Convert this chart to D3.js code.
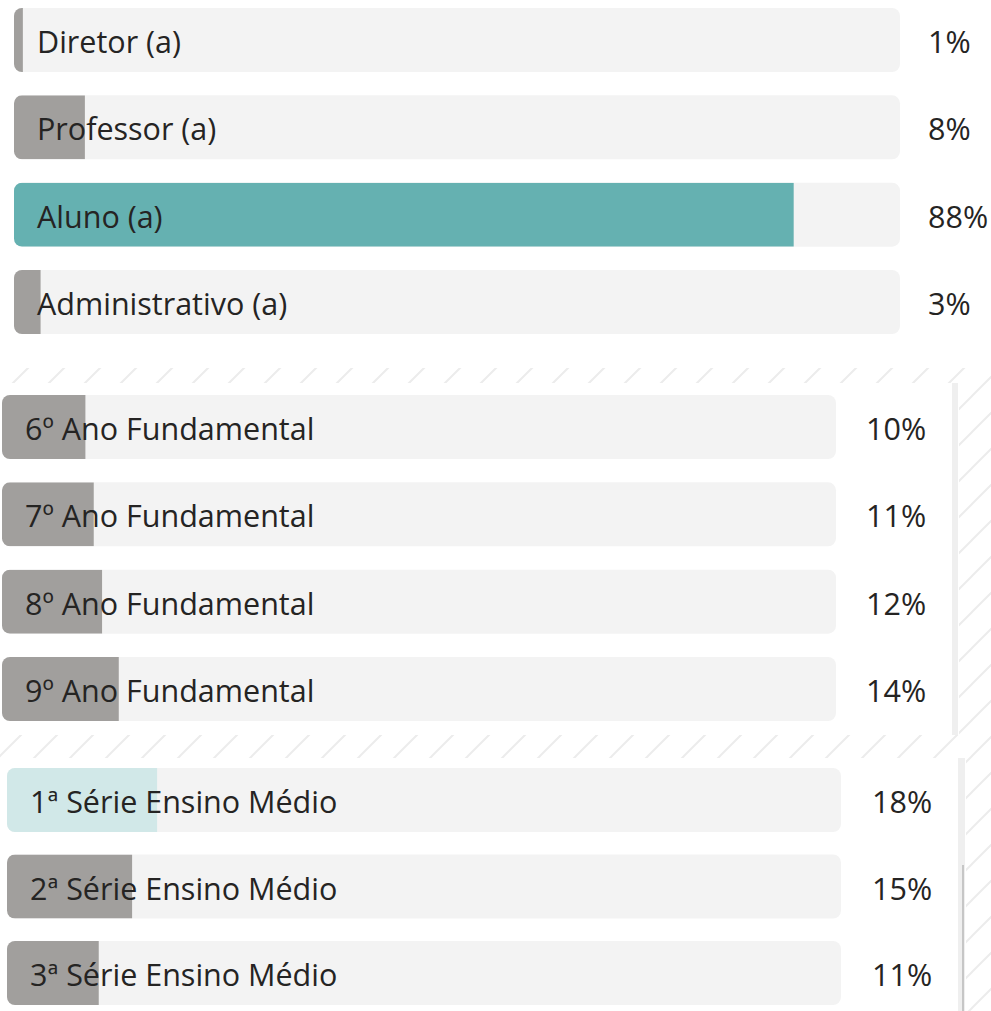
<!DOCTYPE html>
<html>
<head>
<meta charset="utf-8">
<script src="https://d3js.org/d3.v7.min.js"></script>
<style>
body {margin:0; background:white;}
svg {display:block;}
text {font-family:"Open Sans", "Noto Sans", sans-serif; fill:#252423;}
</style>
</head>
<body>
<svg width="991" height="1011"></svg>
<script>
// cargo
var labels1 = ["Diretor (a)", "Professor (a)", "Aluno (a)", "Administrativo (a)"];
var values1 = [1, 8, 88, 3];
// ano fundamental
var labels2 = ["6º Ano Fundamental", "7º Ano Fundamental", "8º Ano Fundamental", "9º Ano Fundamental"];
var values2 = [10, 11, 12, 14];
// ensino medio
var labels3 = ["1ª Série Ensino Médio", "2ª Série Ensino Médio", "3ª Série Ensino Médio"];
var values3 = [18, 15, 11];

var gray = "#a19f9d";
var track = "#f3f3f3";

var svg = d3.select("svg");

// hatched background behind the panels
var defs = svg.append("defs");
var pat = defs.append("pattern")
  .attr("id", "hatch")
  .attr("patternUnits", "userSpaceOnUse")
  .attr("width", 36).attr("height", 36);
pat.append("path")
  .attr("d", "M-9,45 L45,-9 M-9,9 L9,-9 M27,45 L45,27")
  .attr("stroke", "#ececec").attr("stroke-width", 2);

svg.append("rect").attr("width", 991).attr("height", 1011).attr("fill", "url(#hatch)");

// white panels
svg.append("rect").attr("x", 0).attr("y", 0).attr("width", 991).attr("height", 368).attr("fill", "white");
svg.append("rect").attr("x", 0).attr("y", 383).attr("width", 959).attr("height", 352).attr("fill", "white");
svg.append("rect").attr("x", 0).attr("y", 758).attr("width", 966).attr("height", 253).attr("fill", "white");

// scrollbars
svg.append("rect").attr("x", 952).attr("y", 383).attr("width", 6).attr("height", 352).attr("fill", "#efefef");
svg.append("rect").attr("x", 958).attr("y", 758).attr("width", 7).attr("height", 253).attr("fill", "#efefef");
svg.append("rect").attr("x", 962).attr("y", 865).attr("width", 2).attr("height", 146).attr("fill", "#c6c6c6");

var clipId = 0;

function drawBars(labels, values, opt) {
  var x = d3.scaleLinear().domain([0, 100]).range([opt.x0, opt.x1]);
  var y = d3.scaleBand().domain(labels).range([opt.top, opt.bottom]).paddingInner(opt.pad);
  var g = svg.append("g");

  var rows = g.selectAll("g.row")
    .data(labels.map(function(d, i) { return {label: d, value: values[i]}; }))
    .enter().append("g").attr("class", "row");

  rows.each(function(d) {
    var id = "clip" + (clipId++);
    var row = d3.select(this);
    row.append("clipPath").attr("id", id)
      .append("rect")
      .attr("x", x(0)).attr("y", y(d.label))
      .attr("width", x(100) - x(0)).attr("height", y.bandwidth())
      .attr("rx", 8);
    row.append("rect")
      .attr("x", x(0)).attr("y", y(d.label))
      .attr("width", x(100) - x(0)).attr("height", y.bandwidth())
      .attr("rx", 8).attr("fill", track);
    row.append("rect")
      .attr("clip-path", "url(#" + id + ")")
      .attr("x", x(0)).attr("y", y(d.label))
      .attr("width", x(d.value) - x(0)).attr("height", y.bandwidth())
      .attr("fill", opt.color(d.label));
    row.append("text")
      .attr("x", x(0) + 23)
      .attr("y", y(d.label) + y.bandwidth() / 2 + 1)
      .attr("dominant-baseline", "central")
      .style("font-size", "30.5px")
      .text(d.label);
    row.append("text")
      .attr("x", opt.px)
      .attr("y", y(d.label) + y.bandwidth() / 2 + 1)
      .attr("dominant-baseline", "central")
      .style("font-size", "30.5px")
      .text(d.value + "%");
  });
}

drawBars(labels1, values1, {
  x0: 14, x1: 900, top: 8, bottom: 334, pad: 0.267, px: 928,
  color: function(l) { return l === "Aluno (a)" ? "#65b1b1" : gray; }
});
drawBars(labels2, values2, {
  x0: 2, x1: 836, top: 395, bottom: 721, pad: 0.267, px: 866,
  color: function() { return gray; }
});
drawBars(labels3, values3, {
  x0: 7, x1: 841, top: 768, bottom: 1005, pad: 0.26, px: 872,
  color: function(l) { return l === "1ª Série Ensino Médio" ? "#d1e8e8" : gray; }
});
</script>
</body>
</html>
